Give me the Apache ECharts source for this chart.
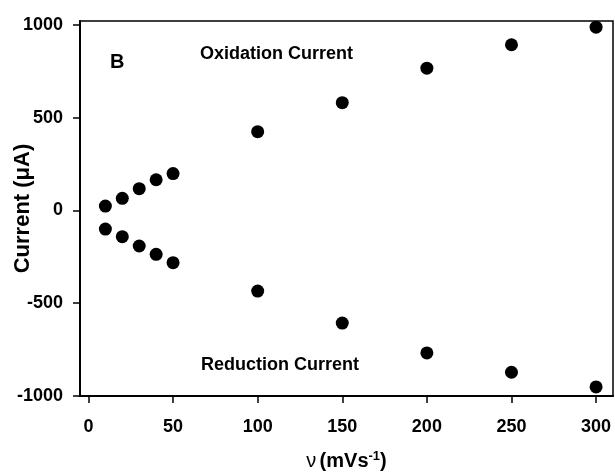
<!DOCTYPE html>
<html>
<head>
<meta charset="utf-8">
<script src="https://cdn.jsdelivr.net/npm/echarts@6/dist/echarts.min.js"></script>
<style>
  html, body { margin: 0; padding: 0; background: #fff; }
  #chart { width: 615px; height: 475px; }
</style>
</head>
<body>
<div id="chart"></div>
<script>
// scan rate (mV/s)
const scanRates = [10, 20, 30, 40, 50, 100, 150, 200, 250, 300];
// peak currents
const oxidation = [23, 65, 117, 165, 198, 424, 580, 766, 892, 987];
const reduction = [-101, -142, -192, -237, -282, -435, -607, -768, -872, -951];
const xTicks = [0, 50, 100, 150, 200, 250, 300];
const yTicks = [-1000, -500, 0, 500, 1000];

const font = 'Liberation Sans, Arial, sans-serif';
const pair = (ys) => scanRates.map((x, i) => [x, ys[i]]);

const chart = echarts.init(document.getElementById('chart'));

const option = {
  animation: false,
  grid: {
    left: 80, right: 2, top: 21, bottom: 79,
    containLabel: false, outerBoundsMode: 'none',
    show: true, borderColor: '#000', borderWidth: 1.5
  },
  xAxis: {
    type: 'value', min: -5, max: 310,
    axisLine: { show: true, onZero: false, lineStyle: { color: '#000', width: 2 } },
    axisTick: { show: true, customValues: xTicks, length: 7, lineStyle: { color: '#000', width: 1.5 } },
    axisLabel: { customValues: xTicks, formatter: (v) => String(v), margin: 22, color: '#000', fontFamily: font, fontWeight: 'bold', fontSize: 18 },
    splitLine: { show: false },
    name: '{nu|ν} {b|(mVs}{sup|-1}{b|)}',
    nameLocation: 'middle', nameGap: 54,
    nameTextStyle: {
      rich: {
        nu: { fontFamily: font, fontSize: 20, color: '#000' },
        b: { fontFamily: font, fontSize: 20, fontWeight: 'bold', color: '#000' },
        sup: { fontFamily: font, fontSize: 13, fontWeight: 'bold', color: '#000', verticalAlign: 'top', padding: [0, 0, 10, 0] }
      }
    }
  },
  yAxis: {
    type: 'value', min: -1000, max: 1020,
    axisLine: { show: true, onZero: false, lineStyle: { color: '#000', width: 2 } },
    axisTick: { show: true, customValues: yTicks, length: 7, lineStyle: { color: '#000', width: 1.5 } },
    axisLabel: { customValues: yTicks, formatter: (v) => String(v), margin: 17, color: '#000', fontFamily: font, fontWeight: 'bold', fontSize: 18 },
    splitLine: { show: false },
    name: 'Current (μA)',
    nameLocation: 'middle', nameGap: 46, nameMoveOverlap: false,
    nameTextStyle: { fontFamily: font, fontWeight: 'bold', fontSize: 22, color: '#000' }
  },
  graphic: [
    { type: 'text', left: 110, top: 52, style: { text: 'B', font: 'bold 20px ' + font, fill: '#000' } },
    { type: 'text', left: 200, top: 45, style: { text: 'Oxidation Current', font: 'bold 18px ' + font, fill: '#000' } },
    { type: 'text', left: 201, top: 356, style: { text: 'Reduction Current', font: 'bold 18px ' + font, fill: '#000' } }
  ],
  series: [
    {
      name: 'Oxidation', type: 'scatter', data: pair(oxidation),
      symbol: 'circle', symbolSize: 13, itemStyle: { color: '#000', opacity: 1 }
    },
    {
      name: 'Reduction', type: 'scatter', data: pair(reduction),
      symbol: 'circle', symbolSize: 13, itemStyle: { color: '#000', opacity: 1 }
    }
  ]
};

chart.setOption(option);
</script>
</body>
</html>
